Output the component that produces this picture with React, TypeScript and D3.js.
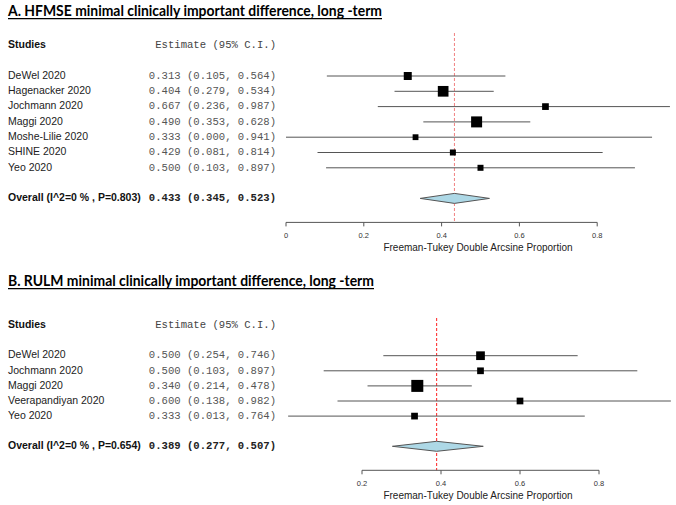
import React from "react";
import * as d3 from "d3";

// ---------- Panel A data ----------
const studiesA = ["DeWel 2020", "Hagenacker 2020", "Jochmann 2020", "Maggi 2020", "Moshe-Lilie 2020", "SHINE 2020", "Yeo 2020"];
const estA = [0.313, 0.404, 0.667, 0.49, 0.333, 0.429, 0.5];
const lowA = [0.105, 0.279, 0.236, 0.353, 0.0, 0.081, 0.103];
const highA = [0.564, 0.534, 0.987, 0.628, 0.941, 0.814, 0.897];
const weightA = [14.2, 25.3, 10.0, 26.9, 7.5, 8.0, 8.0];
const overallA = [0.433, 0.345, 0.523];
const overallLabelA = "Overall (I^2=0 % , P=0.803)";
const ticksA = [0, 0.2, 0.4, 0.6, 0.8];
const titleA = "A. HFMSE minimal clinically important difference, long -term";

// ---------- Panel B data ----------
const studiesB = ["DeWel 2020", "Jochmann 2020", "Maggi 2020", "Veerapandiyan 2020", "Yeo 2020"];
const estB = [0.5, 0.5, 0.34, 0.6, 0.333];
const lowB = [0.254, 0.103, 0.214, 0.138, 0.013];
const highB = [0.746, 0.897, 0.478, 0.982, 0.764];
const weightB = [21.4, 12.7, 40.6, 12.7, 12.7];
const overallB = [0.389, 0.277, 0.507];
const overallLabelB = "Overall (I^2=0 % , P=0.654)";
const ticksB = [0.2, 0.4, 0.6, 0.8];
const titleB = "B. RULM minimal clinically important difference, long -term";

const axisTitle = "Freeman-Tukey Double Arcsine Proportion";
const estHeader = "Estimate (95% C.I.)";

const SANS = "'Liberation Sans', Arial, sans-serif";
const MONO = "'Liberation Mono', 'Courier New', monospace";
const TITLE_FONT = "Lato, 'Open Sans', sans-serif";

type PanelProps = {
  title: string;
  titleWidth: number;
  titleBaseline: number;
  studies: string[];
  est: number[];
  low: number[];
  high: number[];
  weight: number[];
  overall: number[];
  overallLabel: string;
  ticks: number[];
  firstRowY: number;
  rowStep: number;
  x0: number; // pixel of value 0
  unit: number; // pixels per unit
  maxBox: number;
  refTop: number;
  refColor: string;
};

const fmt = d3.format(".3f");

function Panel(p: PanelProps) {
  const n = p.studies.length;
  const x = d3.scaleLinear().domain([0, 1]).range([p.x0, p.x0 + p.unit]);
  const y = d3.scaleLinear().domain([0, 1]).range([p.firstRowY, p.firstRowY + p.rowStep]);
  const box = d3.scaleSqrt().domain([0, d3.max(p.weight) as number]).range([0, p.maxBox]);
  const overallRow = n + 1;
  const axisY = y(overallRow) + 24;
  const estRight = 276;
  const plotCenter = 478;
  const [oe, ol, oh] = p.overall;
  const dh = 5;
  const diamond = d3.line()([
    [x(ol), y(overallRow)],
    [x(oe), y(overallRow) - dh],
    [x(oh), y(overallRow)],
    [x(oe), y(overallRow) + dh],
  ]) + "Z";
  const tmin = p.ticks[0];
  const tmax = p.ticks[p.ticks.length - 1];
  return (
    <g>
      <text x={8} y={p.titleBaseline} fontFamily={TITLE_FONT} fontWeight="bold" fontSize={14.5}
        textLength={p.titleWidth} lengthAdjust="spacingAndGlyphs" fill="#000">{p.title}</text>
      <line x1={8} x2={8 + p.titleWidth} y1={p.titleBaseline + 2.7} y2={p.titleBaseline + 2.7} stroke="#000" strokeWidth={1.2} />

      {/* headers */}
      <text x={8} y={y(-2)} dominantBaseline="middle" fontFamily={SANS} fontWeight="bold" fontSize={10.5} fill="#111">Studies</text>
      <text x={estRight} y={y(-2)} dominantBaseline="middle" textAnchor="end" fontFamily={MONO} fontSize={10.6} fill="#444" xmlSpace="preserve">{estHeader}</text>

      {/* reference line */}
      <line x1={x(oe)} x2={x(oe)} y1={p.refTop} y2={axisY} stroke={p.refColor} strokeWidth={1} strokeDasharray="3,2" />

      {p.studies.map((s, i) => (
        <g key={s}>
          <text x={8} y={y(i)} dominantBaseline="middle" fontFamily={SANS} fontSize={10.5} fill="#222">{s}</text>
          <text x={estRight} y={y(i)} dominantBaseline="middle" textAnchor="end" fontFamily={MONO} fontSize={10.6} fill="#555" xmlSpace="preserve">
            {`${fmt(p.est[i])} (${fmt(p.low[i])}, ${fmt(p.high[i])})`}
          </text>
          <line x1={x(p.low[i])} x2={x(p.high[i])} y1={y(i)} y2={y(i)} stroke="#555" strokeWidth={1} />
          <rect x={x(p.est[i]) - box(p.weight[i]) / 2} y={y(i) - box(p.weight[i]) / 2}
            width={box(p.weight[i])} height={box(p.weight[i])} fill="#000" />
        </g>
      ))}

      {/* overall */}
      <text x={8} y={y(overallRow)} dominantBaseline="middle" fontFamily={SANS} fontWeight="bold" fontSize={10.5} fill="#111">{p.overallLabel}</text>
      <text x={estRight} y={y(overallRow)} dominantBaseline="middle" textAnchor="end" fontFamily={MONO} fontWeight="bold" fontSize={10.6} fill="#222" xmlSpace="preserve">
        {`${fmt(oe)} (${fmt(ol)}, ${fmt(oh)})`}
      </text>
      <path d={diamond} fill="#add8e6" stroke="#555" strokeWidth={1} />

      {/* axis */}
      <line x1={x(tmin)} x2={x(tmax)} y1={axisY} y2={axisY} stroke="#555" strokeWidth={1} />
      {p.ticks.map((t) => (
        <g key={t}>
          <line x1={x(t)} x2={x(t)} y1={axisY} y2={axisY + 4} stroke="#555" strokeWidth={1} />
          <text x={x(t)} y={axisY + 16} textAnchor="middle" fontFamily={SANS} fontSize={7.5} fill="#333">{d3.format("~g")(t)}</text>
        </g>
      ))}
      <text x={plotCenter} y={axisY + 28.5} textAnchor="middle" fontFamily={SANS} fontSize={10} fill="#222">{axisTitle}</text>
    </g>
  );
}

export default function App() {
  return (
    <svg width={676} height={505} style={{ position: "absolute", left: 0, top: 0, display: "block", background: "#fff" }}>
      <rect width={676} height={505} fill="#fff" />
      <Panel title={titleA} titleWidth={374} titleBaseline={16} studies={studiesA} est={estA} low={lowA} high={highA}
        weight={weightA} overall={overallA} overallLabel={overallLabelA} ticks={ticksA}
        firstRowY={76} rowStep={15.3} x0={286} unit={389} maxBox={11} refTop={33} refColor="#f08080" />
      <Panel title={titleB} titleWidth={366} titleBaseline={286} studies={studiesB} est={estB} low={lowB} high={highB}
        weight={weightB} overall={overallB} overallLabel={overallLabelB} ticks={ticksB}
        firstRowY={355.7} rowStep={15.1} x0={283} unit={395} maxBox={12} refTop={318} refColor="#ff2020" />
    </svg>
  );
}
